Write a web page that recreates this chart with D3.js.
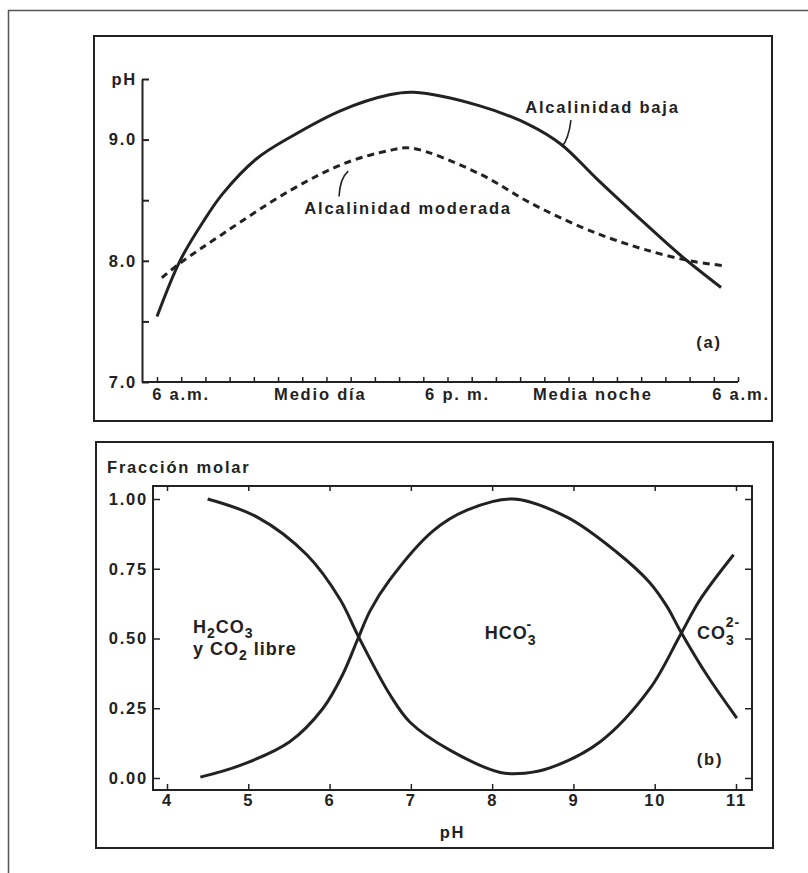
<!DOCTYPE html>
<html>
<head>
<meta charset="utf-8">
<script src="https://cdn.jsdelivr.net/npm/d3@7"></script>
<style>
  body { margin: 0; background: #fff; }
  svg text { font-family: "Liberation Sans", Arial, sans-serif; fill: #222; }
</style>
</head>
<body>
<div id="chart"></div>
<script>
// panel (a): pH over a day, hours after 6 a.m.
const bajaHour = [0, 0.95, 1.9, 2.7, 4.1, 5.5, 7.6, 9.6, 10.6, 13.3, 15.4, 16.7, 18.2, 20.2, 21.6, 23.3];
const bajaPH = [7.54, 8.0, 8.32, 8.55, 8.84, 9.02, 9.24, 9.37, 9.39, 9.28, 9.12, 8.96, 8.67, 8.30, 8.05, 7.78];
const moderadaHour = [0.2, 0.95, 2.7, 5.5, 7.7, 9.6, 10.5, 13.3, 15.4, 17.5, 18.8, 20.2, 22.0, 23.4];
const moderadaPH = [7.86, 7.98, 8.22, 8.58, 8.80, 8.91, 8.93, 8.72, 8.48, 8.28, 8.18, 8.09, 8.0, 7.96];
const timeLabels = ["6 a.m.", "Medio día", "6 p. m.", "Media noche", "6 a.m."];
const timeLabelHours = [0, 6, 12, 18, 24];
const phTicks = [7, 7.5, 8, 8.5, 9, 9.5];
const phTickLabels = ["7.0", "", "8.0", "", "9.0", "pH"];

// panel (b): molar fraction vs pH
const curveOnePH = [4.50, 5.11, 5.72, 6.13, 6.35, 6.74, 6.99, 7.48, 8.10, 8.40, 8.71, 9.33, 9.94, 10.31, 10.56, 10.97];
const curveOneFrac = [1.00, 0.935, 0.80, 0.64, 0.51, 0.30, 0.20, 0.10, 0.02, 0.017, 0.036, 0.13, 0.32, 0.51, 0.64, 0.80];
const curveTwoPH = [4.41, 4.90, 5.51, 5.92, 6.16, 6.35, 6.50, 6.74, 7.27, 7.69, 8.26, 8.92, 9.53, 9.94, 10.15, 10.31, 10.64, 11.01];
const curveTwoFrac = [0.003, 0.045, 0.13, 0.25, 0.37, 0.50, 0.60, 0.71, 0.885, 0.96, 1.00, 0.935, 0.81, 0.70, 0.615, 0.53, 0.37, 0.215];
const pHTicksB = [4, 5, 6, 7, 8, 9, 10, 11];
const fracTicks = [0, 0.25, 0.5, 0.75, 1];

const ink = "#222";
const W = 808, H = 873;

const svg = d3.select("#chart").append("svg")
  .attr("width", W).attr("height", H);

// outer frame of the scanned page
svg.append("path")
  .attr("d", "M8.5,873V10.5H808")
  .attr("fill", "none").attr("stroke", "#555").attr("stroke-width", 1.5);

// panel boxes
svg.append("rect").attr("x", 94).attr("y", 36).attr("width", 678).attr("height", 385)
  .attr("fill", "none").attr("stroke", ink).attr("stroke-width", 2);
svg.append("rect").attr("x", 96).attr("y", 442).attr("width", 677).attr("height", 406)
  .attr("fill", "none").attr("stroke", ink).attr("stroke-width", 2);

const bold = sel => sel.attr("font-size", 16.5).attr("font-weight", "bold").attr("letter-spacing", 1.8);

// ---------- panel (a) ----------
const xA = d3.scaleLinear().domain([0, 24]).range([157, 738]);
const yA = d3.scaleLinear().domain([7, 9.5]).range([382, 79]);

const gA = svg.append("g");

const yAxisA = d3.axisLeft(yA)
  .tickValues(phTicks)
  .tickSize(-7)
  .tickSizeOuter(0)
  .tickPadding(5)
  .tickFormat((d, i) => phTickLabels[i]);

gA.append("g").attr("transform", "translate(142,0)").call(yAxisA)
  .call(g => g.select(".domain").attr("stroke", ink).attr("stroke-width", 2))
  .call(g => g.selectAll(".tick line").attr("stroke", ink).attr("stroke-width", 2))
  .call(g => g.selectAll(".tick text").call(bold).attr("fill", ink));

const xAxisA = d3.axisBottom(xA)
  .tickValues(d3.range(0, 25))
  .tickSize(-5)
  .tickFormat("");

gA.append("g").attr("transform", "translate(0,382)").call(xAxisA)
  .call(g => g.select(".domain").remove())
  .call(g => g.selectAll(".tick line").attr("stroke", ink).attr("stroke-width", 1.5));

gA.append("line")
  .attr("x1", 142).attr("x2", xA(24)).attr("y1", 382).attr("y2", 382)
  .attr("stroke", ink).attr("stroke-width", 2);

const labelShift = [24, 18, 10, 0, 3];
gA.selectAll("text.time")
  .data(timeLabels)
  .join("text")
  .attr("class", "time")
  .attr("x", (d, i) => xA(timeLabelHours[i]) + labelShift[i])
  .attr("y", 400)
  .attr("text-anchor", "middle")
  .call(bold)
  .text(d => d);

const lineA = d3.line()
  .x(d => xA(d[0]))
  .y(d => yA(d[1]))
  .curve(d3.curveCatmullRom.alpha(0.5));

gA.append("path")
  .datum(d3.zip(bajaHour, bajaPH))
  .attr("d", lineA)
  .attr("fill", "none").attr("stroke", ink).attr("stroke-width", 3);

gA.append("path")
  .datum(d3.zip(moderadaHour, moderadaPH))
  .attr("d", lineA)
  .attr("fill", "none").attr("stroke", ink).attr("stroke-width", 3)
  .attr("stroke-dasharray", "7,5");

// annotations
gA.append("text")
  .attr("x", xA(18.4)).attr("y", yA(9.22))
  .attr("text-anchor", "middle").call(bold)
  .text("Alcalinidad baja");
gA.append("path")
  .attr("d", `M${xA(17.1)},${yA(9.16)}Q${xA(17.0)},${yA(9.0)} ${xA(16.72)},${yA(8.94)}`)
  .attr("fill", "none").attr("stroke", ink).attr("stroke-width", 1.6);

gA.append("text")
  .attr("x", xA(10.37)).attr("y", yA(8.39))
  .attr("text-anchor", "middle").call(bold)
  .text("Alcalinidad moderada");
gA.append("path")
  .attr("d", `M${xA(7.52)},${yA(8.53)}Q${xA(7.55)},${yA(8.68)} ${xA(7.9)},${yA(8.74)}`)
  .attr("fill", "none").attr("stroke", ink).attr("stroke-width", 1.6);

gA.append("text")
  .attr("x", xA(22.8)).attr("y", yA(7.28))
  .attr("text-anchor", "middle").call(bold)
  .text("(a)");

// ---------- panel (b) ----------
const xB = d3.scaleLinear().domain([4, 11]).range([167, 736]);
const yB = d3.scaleLinear().domain([0, 1]).range([778, 499]);
const frame = { left: 153, right: 752, top: 486, bottom: 790 };

const gB = svg.append("g");

gB.append("rect")
  .attr("x", frame.left).attr("y", frame.top)
  .attr("width", frame.right - frame.left).attr("height", frame.bottom - frame.top)
  .attr("fill", "none").attr("stroke", ink).attr("stroke-width", 2);

const styleTicks = g => {
  g.select(".domain").remove();
  g.selectAll(".tick line").attr("stroke", ink).attr("stroke-width", 1.5);
  g.selectAll(".tick text").call(bold).attr("fill", ink);
};

gB.append("g").attr("transform", `translate(0,${frame.bottom})`)
  .call(d3.axisBottom(xB).tickValues(pHTicksB).tickSize(-6).tickPadding(4).tickFormat(d3.format("d")))
  .call(styleTicks);
gB.append("g").attr("transform", `translate(0,${frame.top})`)
  .call(d3.axisTop(xB).tickValues(pHTicksB).tickSize(-5).tickFormat(""))
  .call(styleTicks);
gB.append("g").attr("transform", `translate(${frame.left},0)`)
  .call(d3.axisLeft(yB).tickValues(fracTicks).tickSize(-7).tickPadding(5).tickFormat(d3.format(".2f")))
  .call(styleTicks);
gB.append("g").attr("transform", `translate(${frame.right},0)`)
  .call(d3.axisRight(yB).tickValues(fracTicks).tickSize(-7).tickFormat(""))
  .call(styleTicks);

svg.append("text")
  .attr("x", 107).attr("y", 473)
  .call(bold)
  .text("Fracción molar");

svg.append("text")
  .attr("x", (frame.left + frame.right) / 2).attr("y", 838)
  .attr("text-anchor", "middle").call(bold)
  .text("pH");

const lineB = d3.line()
  .x(d => xB(d[0]))
  .y(d => yB(d[1]))
  .curve(d3.curveCatmullRom.alpha(0.5));

gB.append("path")
  .datum(d3.zip(curveOnePH, curveOneFrac))
  .attr("d", lineB)
  .attr("fill", "none").attr("stroke", ink).attr("stroke-width", 3);

gB.append("path")
  .datum(d3.zip(curveTwoPH, curveTwoFrac))
  .attr("d", lineB)
  .attr("fill", "none").attr("stroke", ink).attr("stroke-width", 3);

// species labels
const species = sel => sel.attr("font-size", 18).attr("font-weight", "bold").attr("letter-spacing", 1).attr("fill", "#333");

const h2co3 = gB.append("text").attr("x", xB(4.32)).attr("y", yB(0.52)).call(species);
h2co3.append("tspan").text("H");
h2co3.append("tspan").attr("dy", 5).attr("font-size", 14).text("2");
h2co3.append("tspan").attr("dy", -5).text("CO");
h2co3.append("tspan").attr("dy", 5).attr("font-size", 14).text("3");

const libre = gB.append("text").attr("x", xB(4.32)).attr("y", yB(0.44)).call(species);
libre.append("tspan").text("y CO");
libre.append("tspan").attr("dy", 5).attr("font-size", 14).text("2");
libre.append("tspan").attr("dy", -5).text(" libre");

const hco3 = gB.append("text").attr("x", xB(7.91)).attr("y", yB(0.50)).call(species);
hco3.append("tspan").text("HCO");
hco3.append("tspan").attr("dy", 6).attr("font-size", 14).text("3");
hco3.append("tspan").attr("dx", -10).attr("dy", -16).attr("font-size", 14).text("-");

const co3 = gB.append("text").attr("x", xB(10.52)).attr("y", yB(0.50)).call(species);
co3.append("tspan").text("CO");
co3.append("tspan").attr("dy", 6).attr("font-size", 14).text("3");
co3.append("tspan").attr("dx", -9).attr("dy", -18).attr("font-size", 14).text("2-");

gB.append("text")
  .attr("x", xB(10.68)).attr("y", yB(0.047))
  .attr("text-anchor", "middle").call(bold)
  .text("(b)");
</script>
</body>
</html>
